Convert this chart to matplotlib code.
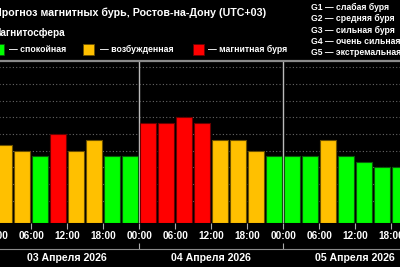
import numpy as np
import matplotlib
matplotlib.use("Agg")
import matplotlib.pyplot as plt
from matplotlib.patches import Rectangle

plt.rcParams['font.family'] = ['Liberation Sans', 'DejaVu Sans']

# Kp forecast, 3-hour intervals (03..05 April 2026)
kp = [4.33, 4.0, 3.67, 5.0, 4.0, 4.67, 3.67, 3.67,
      5.67, 5.67, 6.0, 5.67, 4.67, 4.67, 4.0, 3.67,
      3.67, 3.67, 4.67, 3.67, 3.33, 3.0, 3.0, 3.0]
hour_labels = ["00:00", "06:00", "12:00", "18:00"]
days = ["03 Апреля 2026", "04 Апреля 2026", "05 Апреля 2026"]
title = "Прогноз магнитных бурь, Ростов-на-Дону (UTC+03)"
legend_names = ["— спокойная", "— возбужденная", "— магнитная буря"]
g_levels = ["G1 — слабая буря", "G2 — средняя буря", "G3 — сильная буря",
            "G4 — очень сильная буря", "G5 — экстремальная буря"]

GREEN, YELLOW, RED = "#00ff00", "#ffc000", "#ff0000"
EDGES = {GREEN: "#0a5a0a", YELLOW: "#6a5000", RED: "#6a0000"}


def kp_color(v):
    if v < 4:
        return GREEN
    if v < 5:
        return YELLOW
    return RED


W, H = 400, 267
fig = plt.figure(figsize=(4, 2.67), dpi=100, facecolor="black")


def fx(px):
    return px / W


def fy(py):
    return (H - py) / H


left, right = -4.7, 427.3
top, bottom = 61, 222.7
ymin = -0.32
ax = fig.add_axes([fx(left), fy(bottom), fx(right - left), (bottom - top) / H])
ax.set_facecolor("black")
ax.set_xlim(0, 72)
ax.set_ylim(ymin, 9.38)

x = np.arange(len(kp)) * 3 + 1.5
cols = [kp_color(v) for v in kp]
ax.bar(x, np.array(kp) - ymin, width=2.7, bottom=ymin, color=cols,
       edgecolor=[EDGES[c] for c in cols], linewidth=0.8, zorder=3)

for g in range(1, 10):
    ax.axhline(g, color="#666666", lw=0.8, ls=(0, (1, 2)), zorder=1)
for d in (24, 48):
    ax.axvline(d, color="#bbbbbb", lw=1.0, zorder=2)

for s in ["left", "right", "bottom"]:
    ax.spines[s].set_visible(False)
ax.spines["top"].set_color("#8a8a8a")
ax.spines["top"].set_linewidth(1.6)
ax.set_yticks([])
ticks = np.arange(0, 73, 6)
ax.set_xticks(ticks)
ax.set_xticklabels([hour_labels[(t // 6) % 4] for t in ticks])
ax.tick_params(axis="x", colors="#aaaaaa", labelcolor="white", length=4,
               width=0.8, pad=2, labelsize=7.2)
for lbl in ax.get_xticklabels():
    lbl.set_fontweight("bold")

# date axis
ax2 = fig.add_axes([fx(left), fy(249.3), fx(right - left), 0.001])
ax2.set_facecolor("none")
ax2.set_xlim(0, 72)
for s in ["left", "right", "top"]:
    ax2.spines[s].set_visible(False)
ax2.spines["bottom"].set_color("#8a8a8a")
ax2.spines["bottom"].set_linewidth(0.8)
ax2.set_yticks([])
ax2.set_xticks([0, 24, 48, 72])
ax2.set_xticklabels([])
ax2.tick_params(axis="x", direction="in", length=4, width=0.8, colors="#aaaaaa")
ax2.set_xticks([12, 36, 60], minor=True)
ax2.set_xticklabels(days, minor=True, fontsize=7.6, fontweight="bold", color="white")
ax2.tick_params(axis="x", which="minor", length=0, pad=3)

# header texts
fig.text(fx(-6.5), fy(13), title, color="white", fontsize=7.65, fontweight="bold", va="center")
fig.text(fx(-7.5), fy(33.5), "Магнитосфера", color="white", fontsize=7.2, fontweight="bold", va="center")
sq_x = [-7, 83.3, 192.7]
txt_x = [9.3, 100, 208]
for sx, tx, c, name in zip(sq_x, txt_x, [GREEN, YELLOW, RED], legend_names):
    fig.patches.append(Rectangle((fx(sx), fy(54.5)), fx(11), 11 / H, transform=fig.transFigure,
                                 facecolor=c, edgecolor=EDGES[c], lw=0.6))
    fig.text(fx(tx), fy(49), name, color="white", fontsize=6.3, fontweight="bold", va="center")
for i, g in enumerate(g_levels):
    fig.text(fx(310.7), fy(7.5 + 11.25 * i), g, color="white", fontsize=6.2, fontweight="bold", va="center")

fig.savefig("out.png", dpi=100, facecolor="black")
